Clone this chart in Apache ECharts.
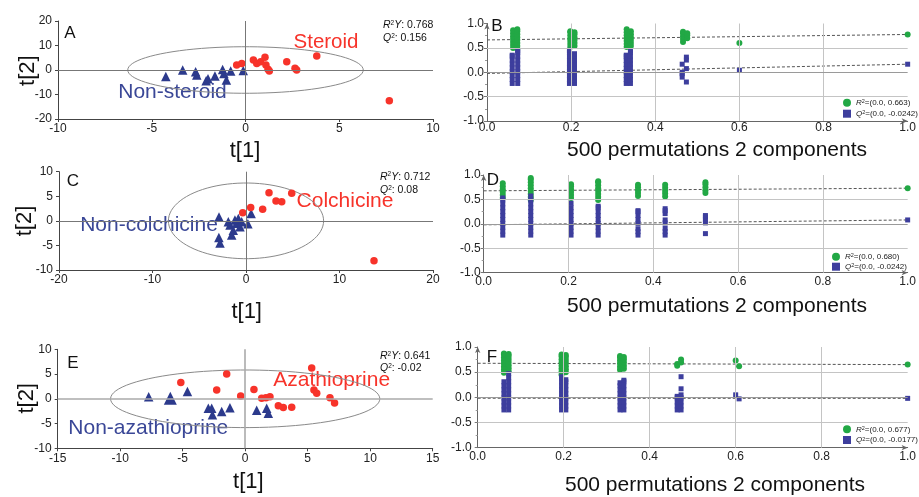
<!DOCTYPE html>
<html><head><meta charset="utf-8">
<script src="https://cdn.jsdelivr.net/npm/echarts@6/dist/echarts.min.js"></script>
<style>html,body{margin:0;padding:0;background:#fff}#c{width:919px;height:497px}</style>
</head><body><div id="c"></div>
<script>
// ---------- Score plots (t[1] vs t[2]) ----------
const steroid = [[-0.47,2.0],[-0.2,2.7],[0.42,4.1],[0.6,2.7],[0.81,3.4],[1.04,5.2],[1.09,2.0],[1.2,0.3],[1.27,-0.4],[2.2,3.4],[2.64,0.7],[2.73,0],[3.8,5.7],[7.67,-12.5]];
const nonSteroid = [[-4.25,-2.7],[-3.35,0],[-2.66,-0.7],[-2.6,-2.0],[-2.1,-4.4],[-2.0,-3.6],[-1.63,-2.4],[-1.22,0.2],[-1.15,-1.4],[-1.02,-4.1],[-0.79,-0.4],[-0.12,-0.2]];
const colchicine = [[-0.35,1.66],[0.5,2.74],[1.78,2.35],[2.46,5.73],[3.21,4.04],[3.82,3.9],[4.89,5.6],[13.69,-8.1]];
const nonColchicine = [[-2.89,0.8],[-2.9,-3.4],[-2.78,-4.5],[-1.89,-0.2],[-1.71,-0.84],[-1.53,-2.9],[-1.36,-1.9],[-1.18,0.17],[-1.0,-0.5],[-0.82,0.5],[-0.64,-1.2],[-0.46,-0.17],[0.2,-0.6],[0.55,1.5]];
const azathioprine = [[-5.15,3.3],[-1.48,5.0],[-2.28,1.78],[-0.36,0.57],[0.7,1.9],[1.32,0.1],[1.66,0.22],[1.98,0.42],[2.65,-1.4],[3.05,-1.75],[3.72,-1.72],[5.32,6.2],[5.5,1.78],[5.72,1.11],[6.78,0.22],[7.15,-0.85]];
const nonAzathioprine = [[-7.72,0.42],[-5.99,0.1],[-4.62,1.5],[-2.95,-1.92],[-2.68,-1.92],[-2.62,-3.2],[-1.88,-2.55],[-1.22,-1.8],[0.92,-2.3],[1.72,-1.92],[1.85,-2.93]];
// Hotelling ellipse semi-axes [t1, t2]
const ellipseA = [6.28, 9.5];
const ellipseC = [8.3, 7.7];
const ellipseE = [10.77, 5.82];
// model stats
const statsA = ['0.768', '0.156'];
const statsC = ['0.712', '0.08'];
const statsE = ['0.641', '-0.02'];

// ---------- Permutation plots ----------
const bR2X = [0.062,0.072,0.198,0.208,0.332,0.342,0.466,0.476,0.6,1.0];
const bR2Y = [
 [0.50,0.56,0.62,0.68,0.74,0.80,0.86],
 [0.48,0.54,0.60,0.66,0.72,0.78,0.84,0.88],
 [0.52,0.58,0.64,0.70,0.76,0.82,0.84],
 [0.54,0.60,0.66,0.72,0.78,0.82],
 [0.52,0.58,0.64,0.70,0.76,0.82,0.88],
 [0.54,0.60,0.66,0.72,0.78,0.84],
 [0.62,0.68,0.74,0.80,0.83],
 [0.70,0.76,0.80],
 [0.60],
 [0.775]];
const bQ2X = [0.060,0.073,0.196,0.208,0.331,0.341,0.464,0.474,0.6,1.0];
const bQ2Y = [
 [-0.23,-0.15,-0.07,0.01,0.09,0.17,0.25,0.33,0.35],
 [-0.23,-0.15,-0.07,0.01,0.09,0.17,0.25,0.33,0.41,0.44],
 [-0.23,-0.15,-0.07,0.01,0.09,0.17,0.25,0.33,0.41,0.45],
 [-0.23,-0.15,-0.07,0.01,0.09,0.17,0.25,0.33,0.38],
 [-0.23,-0.15,-0.07,0.01,0.08,0.16,0.24,0.32,0.35],
 [-0.23,-0.15,-0.07,0.01,0.09,0.17,0.25,0.33,0.41,0.44],
 [0.165,0.0,-0.03,-0.1],
 [0.31,0.25,0.075,-0.2],
 [0.04],
 [0.165]];
const bR2Line = [[0,0.663],[1,0.775]];
const bQ2Line = [[0,-0.0242],[1,0.165]];

const dR2X = [0.045,0.111,0.206,0.27,0.364,0.428,0.523,1.0];
const dR2Y = [
 [0.53,0.59,0.65,0.71,0.77,0.83],
 [0.49,0.55,0.61,0.67,0.73,0.79,0.85,0.91,0.94],
 [0.53,0.59,0.65,0.71,0.77,0.81],
 [0.49,0.55,0.61,0.67,0.73,0.79,0.85,0.87],
 [0.57,0.63,0.69,0.75,0.80],
 [0.56,0.62,0.68,0.74,0.80],
 [0.63,0.69,0.75,0.81,0.85],
 [0.73]];
const dQ2X = [0.045,0.111,0.206,0.27,0.364,0.428,0.523,1.0];
const dQ2Y = [
 [-0.23,-0.15,-0.07,0.01,0.09,0.17,0.25,0.33,0.41,0.49,0.53],
 [-0.23,-0.15,-0.07,0.01,0.09,0.17,0.25,0.33,0.41,0.49,0.57],
 [-0.23,-0.15,-0.07,0.01,0.09,0.17,0.25,0.33,0.42],
 [-0.23,-0.15,-0.07,0.01,0.09,0.17,0.25,0.33,0.36],
 [-0.23,-0.16,-0.10,0.01,0.09,0.17,0.25,0.27],
 [-0.23,-0.16,-0.09,0.02,0.08,0.21,0.27,0.31],
 [-0.20,0.02,0.08,0.14,0.17],
 [0.08]];
const dR2Line = [[0,0.676],[1,0.73]];
const dQ2Line = [[0,-0.02],[1,0.08]];

const fR2X = [0.061,0.072,0.195,0.205,0.331,0.34,0.464,0.473,0.6,0.608,1.0];
const fR2Y = [
 [0.49,0.55,0.61,0.67,0.73,0.79,0.85,0.87],
 [0.52,0.58,0.64,0.70,0.76,0.82,0.86],
 [0.45,0.51,0.57,0.63,0.69,0.75,0.81,0.85],
 [0.50,0.56,0.62,0.68,0.74,0.80,0.84],
 [0.55,0.61,0.67,0.73,0.79,0.82],
 [0.57,0.63,0.69,0.75,0.80],
 [0.63,0.66],
 [0.69,0.75],
 [0.73],
 [0.62],
 [0.65]];
const fQ2X = [0.061,0.072,0.195,0.205,0.331,0.34,0.464,0.473,0.6,0.608,1.0];
const fQ2Y = [
 [-0.25,-0.17,-0.09,-0.01,0.07,0.15,0.23,0.31],
 [-0.25,-0.17,-0.09,-0.01,0.07,0.15,0.23,0.31,0.39,0.47],
 [-0.25,-0.17,-0.09,-0.01,0.07,0.15,0.23,0.31,0.39,0.41],
 [-0.25,-0.17,-0.09,-0.01,0.07,0.15,0.23,0.31,0.35],
 [-0.25,-0.17,-0.09,-0.01,0.07,0.15,0.23,0.29],
 [-0.25,-0.17,-0.09,-0.01,0.07,0.15,0.23,0.31,0.34],
 [-0.25,-0.17,-0.09,-0.01,0.02],
 [-0.25,-0.17,-0.09,-0.01,0.05,0.17,0.41],
 [0.05],
 [-0.03],
 [-0.02]];
const fR2Line = [[0,0.677],[1,0.65]];
const fQ2Line = [[0,-0.0177],[1,-0.02]];

const legendB = ['0.663', '-0.0242'];
const legendD = ['0.680', '-0.0242'];
const legendF = ['0.677', '-0.0177'];

const permGridX = [0.2, 0.4, 0.6, 0.8];
const permGridY = [0.5, 0, -0.5];

// ---------- build ----------
const FONT = "'Liberation Sans', Arial, Helvetica, sans-serif";
const RED = '#f7332a', NAVY = '#2c3a8c', NAVYTXT = '#3a4797', GREEN = '#22a845', SQ = '#3d3e9d';

function cols(xs, ys){ const out=[]; xs.forEach((x,i)=>ys[i].forEach(y=>out.push([x,y]))); return out; }

const grids = [
  {left:58, top:21, width:375, height:98},
  {left:487, top:23.5, width:425, height:97.5},
  {left:59, top:171.7, width:374, height:98.3},
  {left:483.7, top:175, width:431.6, height:97.7},
  {left:57.7, top:349.3, width:375, height:99},
  {left:477.7, top:347, width:438.5, height:100.7}
];

function scX(gi, min, max, interval){
  return {gridIndex:gi, type:'value', min, max, interval,
    axisLine:{show:true, onZero:false, lineStyle:{color:'#444', width:1}},
    axisTick:{show:true, length:3, lineStyle:{color:'#444'}},
    axisLabel:{fontSize:12, color:'#222', margin:4, fontFamily:FONT},
    splitLine:{show:false}};
}
function scY(gi, min, max, interval){
  return {gridIndex:gi, type:'value', min, max, interval,
    axisLine:{show:true, onZero:false, lineStyle:{color:'#444', width:1}},
    axisTick:{show:true, length:3, lineStyle:{color:'#444'}},
    axisLabel:{fontSize:12, color:'#222', margin:6, fontFamily:FONT},
    splitLine:{show:false}};
}
function pmX(gi, margin){
  return {gridIndex:gi, type:'value', min:0, max:1, interval:0.2,
    axisLine:{show:true, onZero:false, symbol:['none','arrow'], symbolSize:[4,6], lineStyle:{color:'#666', width:1}},
    axisTick:{show:false},
    axisLabel:{fontSize:12, color:'#222', margin, fontFamily:FONT, formatter:v=>v.toFixed(1)},
    splitLine:{show:false}};
}
function pmY(gi, margin){
  return {gridIndex:gi, type:'value', min:-1, max:1, interval:0.5,
    axisLine:{show:true, onZero:false, symbol:['none','arrow'], symbolSize:[4,6], lineStyle:{color:'#666', width:1}},
    axisTick:{show:true, length:3, lineStyle:{color:'#777'}},
    minorTick:{show:true, splitNumber:2, length:2, lineStyle:{color:'#999'}},
    axisLabel:{fontSize:12, color:'#222', margin, fontFamily:FONT, formatter:v=>v.toFixed(1)},
    splitLine:{show:false}};
}

function ellipseSeries(gi, ab){
  return {type:'custom', xAxisIndex:gi, yAxisIndex:gi, data:[ab], clip:false, silent:true, z:1,
    renderItem:(params, api)=>{
      const a = api.value(0), b = api.value(1); const pts=[];
      for(let k=0;k<=90;k++){ const t=k/90*2*Math.PI; pts.push(api.coord([a*Math.cos(t), b*Math.sin(t)])); }
      return {type:'polyline', shape:{points:pts}, style:{fill:null, stroke:'#8a8a8a', lineWidth:1}};
    }};
}
function scatterSeries(gi, ell, non, pos, zeroColor, zeroWidth, bigIdx){
  return [
    ellipseSeries(gi, ell),
    {type:'scatter', xAxisIndex:gi, yAxisIndex:gi, data:non, symbol:'triangle',
     symbolSize:(v,p)=> (bigIdx!==undefined && p.dataIndex===bigIdx)?13:9.5,
     itemStyle:{color:NAVY, opacity:1}, z:3, silent:true,
     markLine:{silent:true, symbol:['none','none'], label:{show:false}, animation:false,
       lineStyle:{type:'solid', color:zeroColor, width:zeroWidth},
       data:[{xAxis:0},{yAxis:0}]}},
    {type:'scatter', xAxisIndex:gi, yAxisIndex:gi, data:pos, symbol:'circle', symbolSize:7.5,
     itemStyle:{color:RED, opacity:1}, z:4, silent:true}
  ];
}
function permSeries(gi, key, r2x, r2y, q2x, q2y, r2l, q2l){
  const dash = {type:[3,2], color:'#555', width:1};
  return [
    {type:'line', xAxisIndex:gi, yAxisIndex:gi, data:r2l, showSymbol:false, lineStyle:dash, z:2, silent:true,
     markLine:{silent:true, symbol:['none','none'], label:{show:false}, animation:false,
       lineStyle:{type:'solid', color:'#c4c4c4', width:1},
       data:permGridX.map(v=>({xAxis:v})).concat(permGridY.map(v=>({yAxis:v, lineStyle:{color: v===0?'#9a9a9a':'#c4c4c4'}})))}},
    {type:'line', xAxisIndex:gi, yAxisIndex:gi, data:q2l, showSymbol:false, lineStyle:dash, z:2, silent:true},
    {name:key+'R2', type:'scatter', xAxisIndex:gi, yAxisIndex:gi, data:cols(r2x,r2y), symbol:'circle', symbolSize:6,
     itemStyle:{color:GREEN, opacity:1}, z:3, silent:true, clip:false},
    {name:key+'Q2', type:'scatter', xAxisIndex:gi, yAxisIndex:gi, data:cols(q2x,q2y), symbol:'rect', symbolSize:5,
     itemStyle:{color:SQ, opacity:1}, z:4, silent:true, clip:false}
  ];
}

const series = [].concat(
  scatterSeries(0, ellipseA, nonSteroid, steroid, '#777', 1),
  permSeries(1, 'b', bR2X, bR2Y, bQ2X, bQ2Y, bR2Line, bQ2Line),
  scatterSeries(2, ellipseC, nonColchicine, colchicine, '#777', 1),
  permSeries(3, 'd', dR2X, dR2Y, dQ2X, dQ2Y, dR2Line, dQ2Line),
  scatterSeries(4, ellipseE, nonAzathioprine, azathioprine, '#aaa', 1.6, 1),
  permSeries(5, 'f', fR2X, fR2Y, fQ2X, fQ2Y, fR2Line, fQ2Line)
);

const legRich = {i:{fontStyle:'italic', fontSize:8, fontFamily:FONT, color:'#222'}, s:{fontSize:5.5, verticalAlign:'top', lineHeight:5, fontFamily:FONT, color:'#222'}};
function legend(key, left, top, gap, vals){
  const map = {}; map[key+'R2'] = '{i|R}{s|2}=(0.0, '+vals[0]+')'; map[key+'Q2'] = '{i|Q}{s|2}=(0.0, '+vals[1]+')';
  return {data:[{name:key+'R2', icon:'circle'},{name:key+'Q2', icon:'rect'}], left, top, orient:'vertical',
    itemWidth:8, itemHeight:8, itemGap:gap, selectedMode:false, padding:0,
    textStyle:{fontSize:8, color:'#222', fontFamily:FONT, rich:legRich}, formatter:n=>map[n]};
}

function txt(x, y, text, size, color, extra){
  return Object.assign({type:'text', x, y, silent:true,
    style:{text, fontSize:size, fill:color, fontFamily:FONT, align:'center', verticalAlign:'middle'}}, extra||{});
}
const statRich = {i:{fontStyle:'italic', fontSize:10.5, fontFamily:FONT, fill:'#111'}, s:{fontSize:6.5, verticalAlign:'top', lineHeight:6, fontFamily:FONT, fill:'#111'}};
function stat(x, y, text){
  return {type:'text', x, y, silent:true, style:{text, fontSize:10.5, fill:'#111', fontFamily:FONT, align:'left', verticalAlign:'middle', rich:statRich}};
}

const graphic = [
  txt(70,33,'A',17,'#111'), txt(497,26,'B',17,'#111'),
  txt(73,181,'C',17,'#111'), txt(493,180,'D',17,'#111'),
  txt(73,363,'E',17,'#111'), txt(492,357,'F',17,'#111'),
  txt(326,42.5,'Steroid',20.5,RED), txt(172.5,92,'Non-steroid',21,NAVYTXT),
  txt(345,201.5,'Colchicine',21,RED), txt(149,225.5,'Non-colchicine',21,NAVYTXT),
  txt(331.7,380,'Azathioprine',21,RED), txt(148.3,428,'Non-azathioprine',21,NAVYTXT),
  stat(383,25,'{i|R}{s|2}{i|Y}: '+statsA[0]), stat(383,38,'{i|Q}{s|2}: '+statsA[1]),
  stat(380,176.7,'{i|R}{s|2}{i|Y}: '+statsC[0]), stat(380,190,'{i|Q}{s|2}: '+statsC[1]),
  stat(380,356,'{i|R}{s|2}{i|Y}: '+statsE[0]), stat(380,368.3,'{i|Q}{s|2}: '+statsE[1]),
  txt(245,151,'t[1]',22,'#111'), txt(246.7,311.5,'t[1]',22,'#111'), txt(248.3,481.5,'t[1]',22,'#111'),
  txt(27.7,70.7,'t[2]',22,'#111',{rotation:Math.PI/2}), txt(25,221,'t[2]',22,'#111',{rotation:Math.PI/2}), txt(26.7,398.3,'t[2]',22,'#111',{rotation:Math.PI/2}),
  txt(717,150,'500 permutations 2 components',21,'#111'),
  txt(717,306.7,'500 permutations 2 components',21,'#111'),
  txt(715,485,'500 permutations 2 components',21,'#111')
];

const option = {
  animation:false, backgroundColor:'#fff', textStyle:{fontFamily:FONT},
  grid:grids,
  xAxis:[scX(0,-10,10,5), pmX(1,1), scX(2,-20,20,10), pmX(3,3), scX(4,-15,15,5), pmX(5,3)],
  yAxis:[scY(0,-20,20,10), pmY(1,3), scY(2,-10,10,5), pmY(3,3), scY(4,-10,10,5), pmY(5,6)],
  legend:[legend('b',843,98.7,3,legendB), legend('d',832,252.7,2,legendD), legend('f',843,425.3,2.7,legendF)],
  series, graphic
};
const chart = echarts.init(document.getElementById('c'), null, {renderer:'canvas'});
chart.setOption(option);
</script></body></html>
